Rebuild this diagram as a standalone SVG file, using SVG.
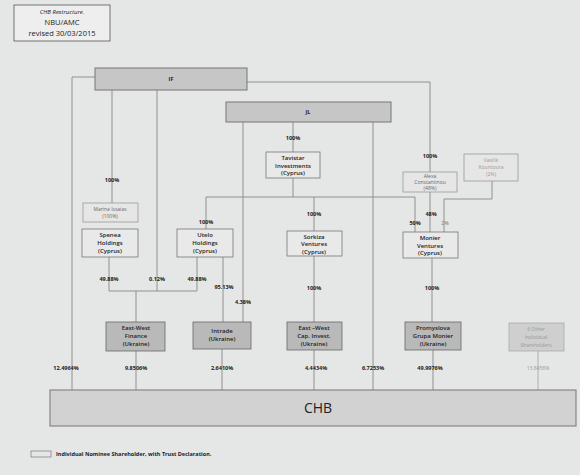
<svg xmlns="http://www.w3.org/2000/svg" width="580" height="475" viewBox="0 0 580 475">
<style>
text{font-family:"Open Sans","Liberation Sans",sans-serif;text-anchor:middle;fill:#222;}
.t{font-size:6px;font-weight:600;}
.p{font-size:5.5px;font-weight:bold;}
.g{font-size:5px;fill:#666;}
.lg{font-size:5px;fill:#999;}
.bar{fill:#c6c6c6;stroke:#777;stroke-width:1;}
.wb{fill:#e9e9e9;stroke:#777;stroke-width:0.8;}
.db{fill:#b9b9b9;stroke:#666;stroke-width:0.8;}
.nb{fill:#e6e6e6;stroke:#999;stroke-width:0.8;}
.lb{fill:#cfcfcf;stroke:#aaa;stroke-width:0.8;}
#connectors line,#connectors polyline{stroke:#888;stroke-width:0.9;fill:none;}
#connectors .f{stroke:#aaa;}
</style>
<rect x="0" y="0" width="580" height="475" fill="#e5e6e6"/>

<g id="title">
<rect x="14" y="5" width="96" height="36" fill="#eeeeee" stroke="#555" stroke-width="0.8"/>
<text x="62" y="14" style="font-size:6px;font-style:italic">CHB Restructure.</text>
<text x="62" y="25" style="font-size:7.5px">NBU/AMC</text>
<text x="62" y="36" style="font-size:7.5px">revised 30/03/2015</text>
</g>

<g id="connectors">
<polyline points="95,77 72,77 72,390"/>
<polyline points="247,82 430,82 430,172"/>
<line x1="112" y1="90" x2="112" y2="203"/>
<line x1="157" y1="90" x2="157" y2="291"/>
<line x1="243" y1="122" x2="243" y2="322"/>
<line x1="293" y1="122" x2="293" y2="152"/>
<line x1="373" y1="122" x2="373" y2="390"/>
<line x1="293" y1="178" x2="293" y2="197"/>
<polyline points="206,229 206,197 415,197 415,232"/>
<line x1="314" y1="197" x2="314" y2="231"/>
<line x1="430" y1="192" x2="430" y2="232"/>
<polyline points="492,181 492,199 444,199 444,232"/>
<line x1="432" y1="258" x2="432" y2="322"/>
<line x1="314" y1="256" x2="314" y2="322"/>
<polyline points="109,257 109,291 197,291 197,257"/>
<line x1="136" y1="291" x2="136" y2="322"/>
<line x1="223" y1="257" x2="223" y2="322"/>
<line x1="136" y1="351" x2="136" y2="390"/>
<line x1="222" y1="349" x2="222" y2="390"/>
<line x1="314" y1="350" x2="314" y2="390"/>
<line x1="433" y1="350" x2="433" y2="390"/>
<line class="f" x1="538" y1="351" x2="538" y2="390"/>
</g>

<g id="IF"><rect class="bar" x="95" y="68" width="152" height="22"/><text class="p" x="171" y="81">IF</text></g>
<g id="JL"><rect class="bar" x="226" y="102" width="165" height="20"/><text class="p" x="308" y="114">JL</text></g>

<g id="tavistar"><rect class="wb" x="266" y="152" width="54" height="26"/>
<text class="t" x="293" y="160">Tavistar</text><text class="t" x="293" y="167.5">Investments</text><text class="t" x="293" y="175">(Cyprus)</text></g>

<g id="alexa"><rect class="nb" x="403" y="172" width="54" height="20"/>
<text class="g" x="430" y="178">Alexa</text><text class="g" x="430" y="184">Constantinou</text><text class="g" x="430" y="190">(48%)</text></g>

<g id="vasilik"><rect class="nb" x="464" y="154" width="54" height="27"/>
<text class="lg" x="491" y="162">Vasilik</text><text class="lg" x="491" y="169">Kountoura</text><text class="lg" x="491" y="176">(2%)</text></g>

<g id="marina"><rect class="nb" x="83" y="203" width="55" height="19"/>
<text class="g" x="110" y="211">Marina Issaias</text><text class="g" x="110" y="218">(100%)</text></g>

<g id="spenea"><rect class="wb" x="82" y="229" width="56" height="28"/>
<text class="t" x="110" y="237">Spenea</text><text class="t" x="110" y="245">Holdings</text><text class="t" x="110" y="253">(Cyprus)</text></g>

<g id="utelo"><rect class="wb" x="177" y="229" width="56" height="28"/>
<text class="t" x="205" y="237">Utelo</text><text class="t" x="205" y="245">Holdings</text><text class="t" x="205" y="253">(Cyprus)</text></g>

<g id="sorkiza"><rect class="wb" x="287" y="231" width="55" height="25"/>
<text class="t" x="314" y="238.5">Sorkiza</text><text class="t" x="314" y="246">Ventures</text><text class="t" x="314" y="253.5">(Cyprus)</text></g>

<g id="monier"><rect class="wb" x="403" y="232" width="55" height="26"/>
<text class="t" x="430" y="240">Monier</text><text class="t" x="430" y="247.5">Ventures</text><text class="t" x="430" y="255">(Cyprus)</text></g>

<g id="ewfinance"><rect class="db" x="106" y="322" width="59" height="29"/>
<text class="t" x="136" y="330">East-West</text><text class="t" x="136" y="338">Finance</text><text class="t" x="136" y="346">(Ukraine)</text></g>

<g id="intrade"><rect class="db" x="193" y="322" width="58" height="27"/>
<text class="t" x="222" y="333">Intrade</text><text class="t" x="222" y="341">(Ukraine)</text></g>

<g id="ewcap"><rect class="db" x="287" y="322" width="55" height="28"/>
<text class="t" x="314" y="330">East –West</text><text class="t" x="314" y="338">Cap. Invest.</text><text class="t" x="314" y="346">(Ukraine)</text></g>

<g id="promyslova"><rect class="db" x="405" y="322" width="56" height="28"/>
<text class="t" x="433" y="330">Promyslova</text><text class="t" x="433" y="338">Grupa  Monier</text><text class="t" x="433" y="346">(Ukraine)</text></g>

<g id="others"><rect class="lb" x="509" y="323" width="55" height="28"/>
<text class="lg" x="536" y="331">6 Other</text><text class="lg" x="536" y="339">Individual</text><text class="lg" x="536" y="347">Shareholders</text></g>

<g id="CHB"><rect x="50" y="390" width="526" height="36" fill="#d2d2d2" stroke="#777" stroke-width="1"/>
<text x="318" y="413" style="font-size:14px">CHB</text></g>

<g id="labels">
<text class="p" x="112" y="182">100%</text>
<text class="p" x="293" y="140">100%</text>
<text class="p" x="430" y="158">100%</text>
<text class="p" x="206" y="224">100%</text>
<text class="p" x="314" y="216">100%</text>
<text class="p" x="431" y="216">48%</text>
<text class="p" x="415" y="225">50%</text>
<text class="lg" x="445" y="225" style="font-weight:bold">2%</text>
<text class="p" x="109" y="281">49.88%</text>
<text class="p" x="157" y="281">0.12%</text>
<text class="p" x="197" y="281">49.88%</text>
<text class="p" x="224" y="289">95.13%</text>
<text class="p" x="243" y="304">4.38%</text>
<text class="p" x="314" y="290">100%</text>
<text class="p" x="432" y="290">100%</text>
<text class="p" x="66" y="370">12.4964%</text>
<text class="p" x="136" y="370">9.8506%</text>
<text class="p" x="222" y="370">2.6410%</text>
<text class="p" x="316" y="370">4.4434%</text>
<text class="p" x="373" y="370">6.7253%</text>
<text class="p" x="430" y="370">49.9976%</text>
<text class="lg" x="538" y="370">13.8458%</text>
</g>

<g id="legend">
<rect x="31" y="451" width="20" height="6" fill="#e6e6e6" stroke="#777" stroke-width="0.7"/>
<text x="56" y="456" style="font-size:5.5px;text-anchor:start;font-weight:bold">Individual Nominee Shareholder, with Trust Declaration.</text>
</g>
</svg>
